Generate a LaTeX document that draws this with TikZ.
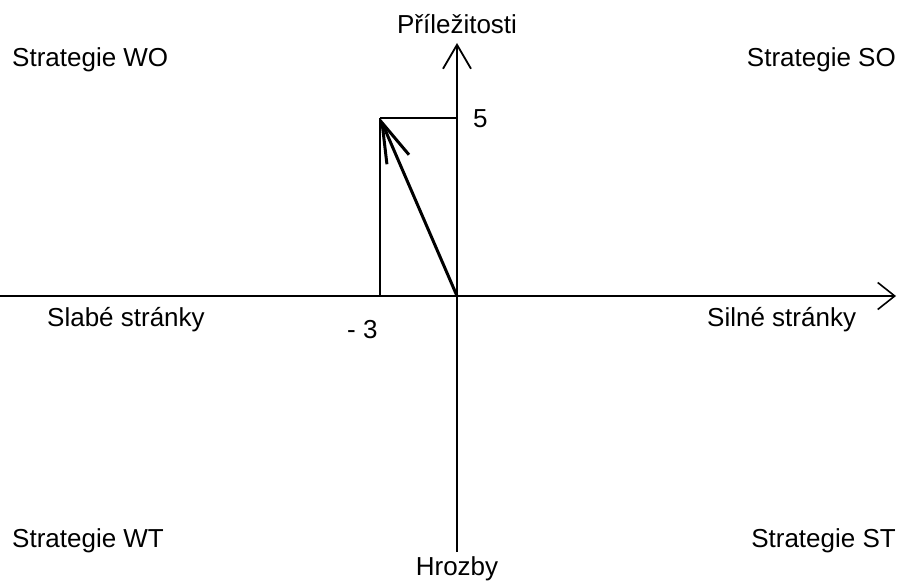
\documentclass[tikz,border=0pt]{standalone}
\usepackage{fontspec}
\setmainfont{Liberation Sans}
\usetikzlibrary{arrows.meta,positioning}
\tikzset{
  axis line/.style  = {line width=2.8pt},
  vaxis line/.style = {line width=2pt},
  vector/.style     = {line width=3pt,
                       -{Straight Barb[length=40pt,width=24pt,line width=3pt]}},
  guide/.style      = {line width=1.4pt},
  lbl/.style        = {font=\fontsize{26}{30}\selectfont, inner sep=0pt},
}
\begin{document}
\begin{tikzpicture}[x=1pt,y=-1pt]
  \useasboundingbox (0,0) rectangle (897,583);

  % ---- axes ----------------------------------------------------------------
  \coordinate (O)  at (457,296);
  \coordinate (xl) at (0,296);
  \coordinate (xr) at (896,296);
  \coordinate (yb) at (457,552);
  \coordinate (yt) at (457,43);
  \draw[axis line,-{Straight Barb[length=17pt,width=27pt,line width=1.6pt]}] (xl) -- (xr);
  \draw[vaxis line,-{Straight Barb[length=24pt,width=28pt,line width=1.8pt]}] (yb) -- (yt);

  % ---- result vector with its guide lines --------------------------------
  \coordinate (P)  at (380,118);
  \coordinate (Py) at (457,118);
  \coordinate (Px) at (380,296);
  \draw[guide] (P) -- (Py);
  \draw[guide] (P) -- (Px);
  \draw[vector] (O) -- (P);

  % ---- axis labels ---------------------------------------------------------
  \node[lbl,anchor=base] (opp) at (457,34) {Příležitosti};
  \node[lbl,anchor=base] (thr) at (457,575) {Hrozby};
  \node[lbl,anchor=base west] (weak) at (47,326) {Slabé stránky};
  \node[lbl,anchor=base west] (strong) at (707,326) {Silné stránky};
  \node[lbl,anchor=base west] (vfive) at (473,128) {5};
  \node[lbl,anchor=base west] (vthree) at (347,338) {- 3};

  % ---- strategies in the corners -----------------------------------------
  \node[lbl,anchor=base west] (wo) at (12,67)  {Strategie WO};
  \node[lbl,anchor=base east] (so) at (896,67) {Strategie SO};
  \node[lbl,anchor=base west] (wt) at (12,547) {Strategie WT};
  \node[lbl,anchor=base east] (st) at (896,547) {Strategie ST};
\end{tikzpicture}
\end{document}
